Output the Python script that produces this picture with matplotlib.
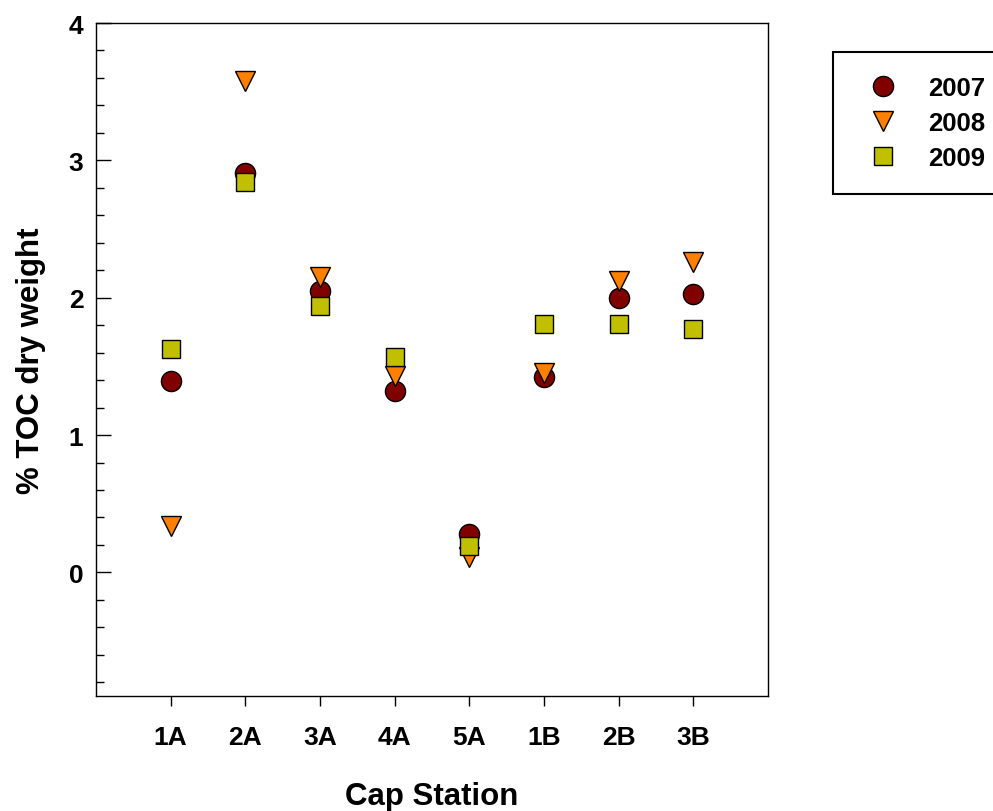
import numpy as np
import matplotlib
matplotlib.use('Agg')
import matplotlib.pyplot as plt
from matplotlib.ticker import MultipleLocator

# ==========================================
# Data
# ==========================================
stations = ['1A', '2A', '3A', '4A', '5A', '1B', '2B', '3B']
toc_2007 = [1.39, 2.91, 2.05, 1.32, 0.28, 1.42, 2.00, 2.03]
toc_2008 = [0.34, 3.58, 2.15, 1.43, 0.11, 1.45, 2.12, 2.26]
toc_2009 = [1.63, 2.84, 1.94, 1.57, 0.19, 1.81, 1.81, 1.77]

plt.rcParams.update({
    'font.family': ['Liberation Sans', 'DejaVu Sans'],
    'font.weight': 'bold',
})

fig = plt.figure(figsize=(9.93, 8.12), dpi=100)
ax = fig.add_axes([96 / 993, 1 - 697 / 812, 672 / 993, 673 / 812])

x = np.arange(1, len(stations) + 1)
common = dict(linestyle='none', markeredgecolor='black', markeredgewidth=1.0)
ax.plot(x, toc_2007, marker='o', markersize=14.5, markerfacecolor='#800000',
        label='2007', **common)
ax.plot(x, toc_2008, marker='v', markersize=14.5, markerfacecolor='#FF8000',
        label='2008', **common)
ax.plot(x, toc_2009, marker='s', markersize=12.5, markerfacecolor='#C0C000',
        label='2009', **common)

ax.set_xlim(0, 9)
ax.set_ylim(-0.9, 4)
ax.set_xticks(x)
ax.set_xticklabels(stations)
ax.yaxis.set_major_locator(MultipleLocator(1))
ax.yaxis.set_minor_locator(MultipleLocator(0.2))
ax.set_yticks([0, 1, 2, 3, 4])

for s in ax.spines.values():
    s.set_linewidth(1.0)

ax.tick_params(axis='y', which='major', direction='in', length=10.5, width=1.0,
               labelsize=19, pad=9)
ax.tick_params(axis='y', which='minor', direction='in', length=6, width=1.0)
ax.tick_params(axis='x', which='major', direction='out', length=7, width=1.0,
               labelsize=19, pad=14)
for lab in ax.get_xticklabels() + ax.get_yticklabels():
    lab.set_fontweight('bold')

# axis titles
fig.text(432 / 993, 1 - 805 / 812, 'Cap Station', ha='center', va='baseline',
         fontsize=22.5, fontweight='bold')
fig.text(39 / 993, 1 - 361 / 812, '% TOC dry weight', ha='center', va='baseline',
         rotation=90, rotation_mode='anchor', fontsize=22.5, fontweight='bold')

leg = ax.legend(loc='upper left', bbox_to_anchor=(833 / 993, 1 - 53 / 812),
                bbox_transform=fig.transFigure, frameon=True, fancybox=False,
                shadow=False, framealpha=1, edgecolor='black',
                prop={'size': 18.5, 'weight': 'bold'},
                borderpad=0.92, handlelength=2.07, handletextpad=0.72,
                labelspacing=0.44, borderaxespad=0)
leg.get_frame().set_linewidth(1.5)

fig.savefig('out.png', dpi=100)
